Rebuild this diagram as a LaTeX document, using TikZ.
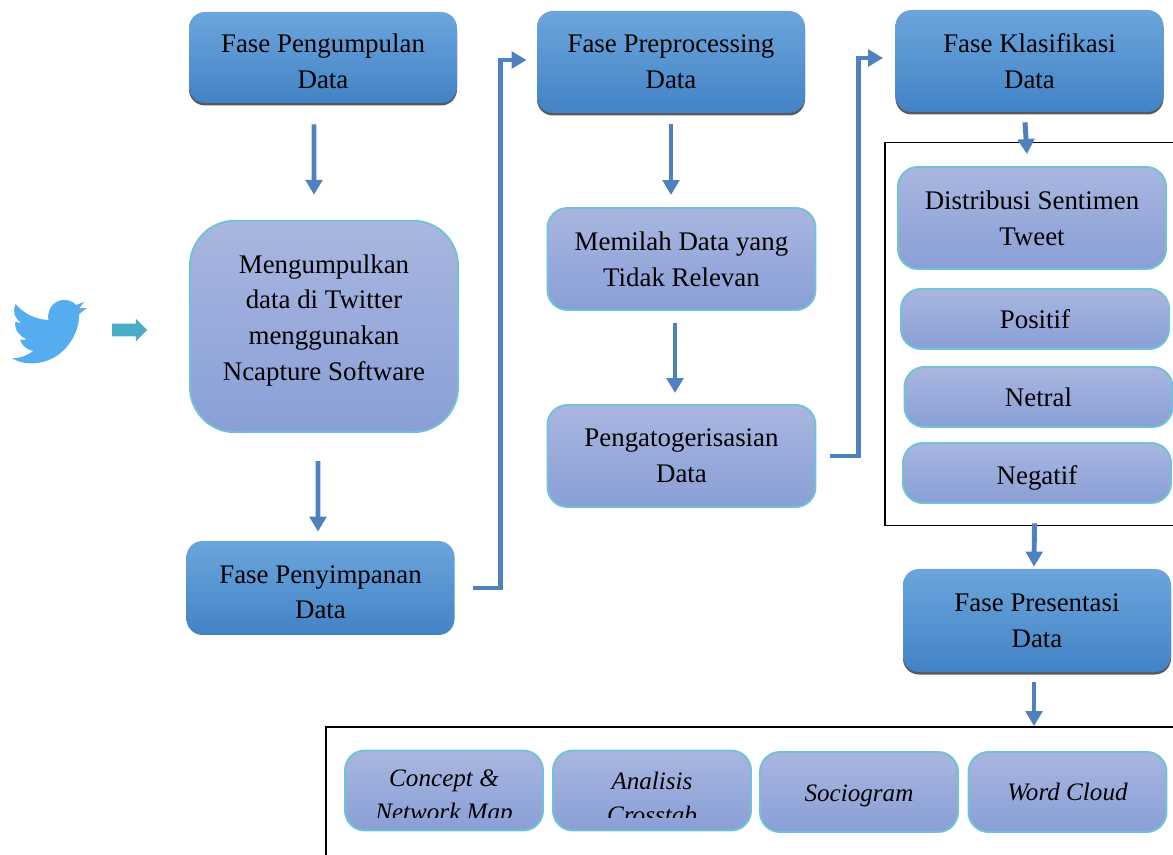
\documentclass[tikz,border=0pt]{standalone}
\usepackage{fontspec}
\setmainfont{Liberation Serif}
\usetikzlibrary{arrows.meta,shadows,shapes.arrows}

\definecolor{burung}{HTML}{55ACEE}
\definecolor{biruatas}{HTML}{6CA5DC}
\definecolor{birubawah}{HTML}{4283C6}
\definecolor{ungutas}{HTML}{A9B6E0}
\definecolor{ungubawah}{HTML}{899FD6}
\definecolor{tepi}{HTML}{6FC3D2}
\definecolor{panahbiru}{HTML}{4F81BD}
\definecolor{panahkecil}{HTML}{4BACC6}

\tikzset{
	teks/.style={align=center, font=\fontsize{15.3}{20.4}\selectfont},
	fase/.style={teks, rounded corners=0.32cm, minimum width=5.36cm, top color=biruatas, bottom color=birubawah},
	faseshadow/.style={fase, drop shadow={shadow xshift=0cm, shadow yshift=-0.05cm, fill=black!65, opacity=1}},
	isi/.style={teks, draw=tepi, line width=1.1pt, rounded corners=0.4cm, minimum width=5.36cm, top color=ungutas, bottom color=ungubawah},
	hasil/.style={isi, minimum width=3.96cm, minimum height=1.6cm},
	miring/.style={align=center, font=\fontsize{14.3}{19}\selectfont\itshape},
	panah/.style={-{Triangle[length=0.3cm,width=0.33cm]}, draw=panahbiru, line width=2.8pt},
	bingkai/.style={draw=black, line width=1pt, inner sep=0pt}
}

\begin{document}
\begin{tikzpicture}
	\useasboundingbox (0,0) rectangle (23.46,17.08) ;
	\clip (0,0) rectangle (23.46,17.08) ;

	% bird and small arrow
	\begin{scope}[shift={(0,11.48)}, x=0.006667cm, y=-0.006667cm]
		\fill [color=burung] (145,120) .. controls (140,85) and (165,58) .. (195,60) .. controls (210,60) and (222,68) .. (228,75) -- (252,66) -- (238,85) -- (260,84) -- (237,103) .. controls (240,160) and (190,252) .. (90,250) .. controls (70,250) and (50,243) .. (36,235) .. controls (60,235) and (85,225) .. (100,213) .. controls (80,210) and (65,195) .. (60,180) -- (80,178) .. controls (60,170) and (42,150) .. (46,125) -- (64,130) .. controls (40,110) and (38,90) .. (47,72) .. controls (70,100) and (105,118) .. (145,120) -- cycle ;
	\end{scope}
	\draw (2.53,10.48) node[single arrow, fill=panahkecil, inner xsep=0pt, inner ysep=0.12cm, minimum height=0.7cm, single arrow head extend=0.1cm, single arrow head indent=0cm] (kecil) {} ;

	% frames
	\draw (20.75,10.4) node[bingkai, minimum width=6.1cm, minimum height=7.66cm] (sentimen) {} ;
	\draw (15.16,1.01) node[bingkai, minimum width=17.28cm, minimum height=3.06cm] (keluaran) {} ;

	% first column
	\draw (6.46,15.93) node[faseshadow, minimum height=1.82cm] (kumpul) {Fase Pengumpulan\\Data\\[-0.88cm]} ;
	\draw (6.48,10.55) node[isi, rounded corners=0.9cm, minimum height=4.23cm] (ncapture) {Mengumpulkan\\data di Twitter\\menggunakan\\Ncapture Software\\[-0.36cm]} ;
	\draw (6.41,5.32) node[fase, minimum height=1.88cm] (simpan) {Fase Penyimpanan\\Data\\[-0.88cm]} ;

	% second column
	\draw (13.42,15.84) node[faseshadow, minimum height=2.04cm] (preproses) {Fase Preprocessing\\Data} ;
	\draw (13.63,11.9) node[isi, minimum height=2.04cm] (memilah) {Memilah Data yang\\Tidak Relevan} ;
	\draw (13.63,7.96) node[isi, minimum height=2.04cm] (kategori) {Pengatogerisasian\\Data} ;

	% third column
	\draw (20.59,15.86) node[faseshadow, minimum height=2.04cm] (klasifikasi) {Fase Klasifikasi\\Data} ;
	\draw (20.64,12.72) node[isi, minimum height=2.04cm] (distribusi) {Distribusi Sentimen\\Tweet} ;
	\draw (20.7,10.7) node[isi, minimum height=1.2cm] (positif) {Positif} ;
	\draw (20.77,9.14) node[isi, minimum height=1.2cm] (netral) {Netral} ;
	\draw (20.74,7.62) node[isi, minimum height=1.2cm] (negatif) {Negatif\\[-0.78cm]} ;
	\draw (20.74,4.67) node[faseshadow, minimum height=2.06cm] (presentasi) {Fase Presentasi\\Data} ;

	% bottom row
	\draw (8.88,1.27) node[hasil] (concept) {} ;
	\draw (13.04,1.27) node[hasil] (analisis) {} ;
	\draw (17.18,1.24) node[hasil] (sociogram) {\fontsize{14.3}{19}\selectfont\itshape Sociogram\\[-0.78cm]} ;
	\draw (21.35,1.24) node[hasil] (wordcloud) {\fontsize{14.3}{19}\selectfont\itshape Word Cloud} ;

	\begin{scope}
		\clip (6.5,0.74) rectangle (16,2.3) ;
		\draw (8.88,1.12) node[miring] (concepttext) {Concept \&\\Network Map} ;
		\draw (13.04,1.12) node[miring] (analisistext) {Analisis\\Crosstab} ;
	\end{scope}

	% arrows
	\draw [panah] ([xshift=-0.18cm,yshift=-0.42cm]kumpul.south) -- ([xshift=-0.2cm,yshift=0.5cm]ncapture.north) ;
	\draw [panah] ([xshift=-0.12cm,yshift=-0.56cm]ncapture.south) -- ([xshift=-0.05cm,yshift=0.18cm]simpan.north) ;
	\draw [panah] ([xshift=0.36cm]simpan.east) -- ++(0.56,0) |- ([xshift=-0.2cm,yshift=0.04cm]preproses.west) ;

	\draw [panah] ([yshift=-0.22cm]preproses.south) -- ([xshift=-0.21cm,yshift=0.24cm]memilah.north) ;
	\draw [panah] ([xshift=-0.13cm,yshift=-0.24cm]memilah.south) -- ([xshift=-0.13cm,yshift=0.22cm]kategori.north) ;
	\draw [panah] ([xshift=0.28cm]kategori.east) -- ++(0.56,0) |- ([xshift=-0.24cm,yshift=0.06cm]klasifikasi.west) ;

	\draw [panah] ([xshift=-0.09cm,yshift=-0.2cm]klasifikasi.south) -- ([xshift=-0.1cm,yshift=0.24cm]distribusi.north) ;
	\draw [panah] ([xshift=-0.06cm,yshift=0.06cm]sentimen.south) -- ([xshift=-0.06cm,yshift=0.04cm]presentasi.north) ;
	\draw [panah] ([xshift=-0.06cm,yshift=-0.2cm]presentasi.south) -- ([xshift=-0.06cm]presentasi.south |- keluaran.north) ;

\end{tikzpicture}
\end{document}
